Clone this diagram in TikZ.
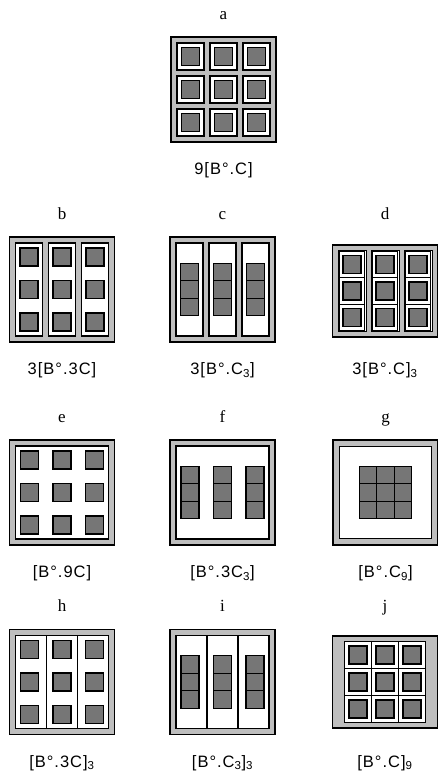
\documentclass[tikz,border=0pt]{standalone}
\usepackage{fontspec}
\setmainfont{Liberation Serif}
\setsansfont{Liberation Sans}[LetterSpace=6]
\usepackage{tikz}
\usetikzlibrary{positioning}
\definecolor{framegray}{RGB}{190,190,190}
\definecolor{cellgray}{RGB}{118,118,118}
\tikzset{
    outerbox/.style={rectangle, draw=black, fill=framegray, line width=1.3pt, minimum width=105pt, minimum height=#1, inner sep=0pt},
    outerbox/.default=105pt,
    whitebox/.style={draw=black, fill=white, line width=1.1pt},
    darksq/.style={draw=black, fill=cellgray, line width=1.3pt},
    divline/.style={draw=black, line width=1.1pt},
    panelletter/.style={font=\fontsize{17}{17}\selectfont, inner sep=0pt, anchor=base},
    panellabel/.style={font=\sffamily\fontsize{16.5}{17}\selectfont, inner sep=0pt, anchor=base}
}
% cell with a white frame round a dark square
\newcommand{\framecell}[4]{%
    \draw[whitebox] (#1-#3,#2-#4) rectangle (#1+#3,#2+#4);
    \draw[darksq] (#1-9,#2-9) rectangle (#1+9,#2+9);}
\newcommand{\darksquare}[2]{\draw[darksq] (#1-9,#2-9) rectangle (#1+9,#2+9);}
\newcommand{\darkstack}[1]{\foreach \k in {-17.5,0,17.5} {\draw[darksq] (#1-9,\k-8.75) rectangle (#1+9,\k+8.75);}}
\begin{document}
\begin{tikzpicture}[x=1pt, y=-1pt]
\useasboundingbox (0,0) rectangle (438,778);

% row 1
\node[outerbox] (boxa) at (223.5,89.5) {};
\node[above=17pt of boxa, panelletter] (lettera) {a};
\node[below=32pt of boxa, panellabel] (labela) {9[B°.C]};
\begin{scope}[shift={(boxa.center)}]
    \foreach \i in {-33,0,33} \foreach \j in {-33,0,33} {\framecell{\i}{\j}{13.5}{13.5}}
\end{scope}

% row 2
\node[outerbox] (boxb) at (62,289.5) {};
\node[above=17pt of boxb, panelletter] (letterb) {b};
\node[below=32pt of boxb, panellabel] (labelb) {3[B°.3C]};
\begin{scope}[shift={(boxb.center)}]
    \foreach \i in {-33,0,33} {
        \draw[whitebox] (\i-13.5,-46.5) rectangle (\i+13.5,46.5);
        \foreach \j in {-32.5,0,32.5} {\darksquare{\i}{\j}}
    }
\end{scope}

\node[outerbox] (boxc) at (222.5,289.5) {};
\node[above=17pt of boxc, panelletter] (letterc) {c};
\node[below=32pt of boxc, panellabel] (labelc) {3[B°.C\textsubscript{3}]};
\begin{scope}[shift={(boxc.center)}]
    \foreach \i in {-33,0,33} {
        \draw[whitebox] (\i-13.5,-46.5) rectangle (\i+13.5,46.5);
        \darkstack{\i}
    }
\end{scope}

\node[outerbox=92pt] (boxd) at (385,291) {};
\node[above=25pt of boxd, panelletter] (letterd) {d};
\node[below=37pt of boxd, panellabel] (labeld) {3[B°.C]\textsubscript{3}};
\begin{scope}[shift={(boxd.center)}, whitebox/.append style={line width=0.9pt}]
    \foreach \i in {-33,0,33} {
        \draw[whitebox] (\i-14,-40.5) rectangle (\i+14,40.5);
        \foreach \j in {-26.2,0,26.2} {\framecell{\i}{\j}{12.8}{13.1}}
    }
\end{scope}

% row 3
\node[outerbox] (boxe) at (62,492.5) {};
\node[above=17pt of boxe, panelletter] (lettere) {e};
\node[below=32pt of boxe, panellabel] (labele) {[B°.9C]};
\begin{scope}[shift={(boxe.center)}]
    \draw[whitebox] (-46.5,-46.5) rectangle (46.5,46.5);
    \foreach \i in {-32.5,0,32.5} \foreach \j in {-32.5,0,32.5} {\darksquare{\i}{\j}}
\end{scope}

\node[outerbox] (boxf) at (222.5,492.5) {};
\node[above=17pt of boxf, panelletter] (letterf) {f};
\node[below=32pt of boxf, panellabel] (labelf) {[B°.3C\textsubscript{3}]};
\begin{scope}[shift={(boxf.center)}]
    \draw[whitebox] (-46.5,-46.5) rectangle (46.5,46.5);
    \foreach \i in {-32.5,0,32.5} {\darkstack{\i}}
\end{scope}

\node[outerbox] (boxg) at (385.5,492.5) {};
\node[above=17pt of boxg, panelletter] (letterg) {g};
\node[below=32pt of boxg, panellabel] (labelg) {[B°.C\textsubscript{9}]};
\begin{scope}[shift={(boxg.center)}]
    \draw[whitebox] (-46,-46) rectangle (46,46);
    \foreach \i in {-17.5,0,17.5} \foreach \j in {-17.5,0,17.5}
        {\draw[darksq] (\i-8.75,\j-8.75) rectangle (\i+8.75,\j+8.75);}
\end{scope}

% row 4
\node[outerbox] (boxh) at (62,682) {};
\node[above=17pt of boxh, panelletter] (letterh) {h};
\node[below=32pt of boxh, panellabel] (labelh) {[B°.3C]\textsubscript{3}};
\begin{scope}[shift={(boxh.center)}]
    \draw[whitebox] (-46.5,-46.5) rectangle (46.5,46.5);
    \foreach \i in {-15.5,15.5} {\draw[divline] (\i,-46.5) -- (\i,46.5);}
    \foreach \i in {-32.5,0,32.5} \foreach \j in {-32.5,0,32.5} {\darksquare{\i}{\j}}
\end{scope}

\node[outerbox] (boxi) at (222.5,682) {};
\node[above=17pt of boxi, panelletter] (letteri) {i};
\node[below=32pt of boxi, panellabel] (labeli) {[B°.C\textsubscript{3}]\textsubscript{3}};
\begin{scope}[shift={(boxi.center)}]
    \draw[whitebox] (-46.5,-46.5) rectangle (46.5,46.5);
    \foreach \i in {-15.5,15.5} {\draw[divline] (\i,-46.5) -- (\i,46.5);}
    \foreach \i in {-32.5,0,32.5} {\darkstack{\i}}
\end{scope}

\node[outerbox=92pt] (boxj) at (385,682) {};
\node[above=23.5pt of boxj, panelletter] (letterj) {j};
\node[below=38.5pt of boxj, panellabel] (labelj) {[B°.C]\textsubscript{9}};
\begin{scope}[shift={(boxj.center)}]
    \foreach \i in {-27,0,27} \foreach \j in {-27,0,27} {\framecell{\i}{\j}{13.5}{13.5}}
\end{scope}

\end{tikzpicture}
\end{document}
